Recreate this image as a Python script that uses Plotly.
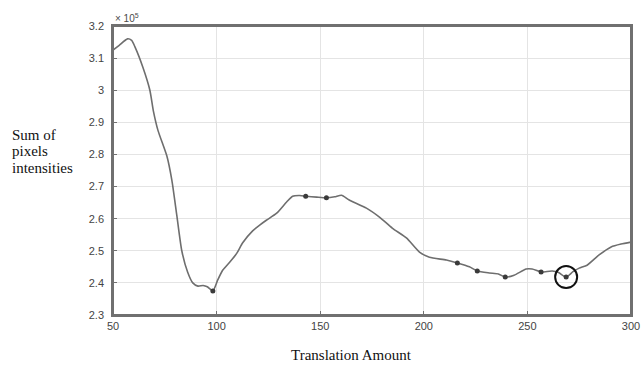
import plotly.graph_objects as go

# Data (sum of pixel intensities, in units of 1e5)
translation = [50, 53, 57, 59, 60.6, 64.5, 67.8, 69.5, 71.7, 76, 78.4, 80.8, 83.2, 86, 88.5, 91, 93.5,
               95.5, 98.2, 100.6, 103, 106.4, 109.7, 112.6, 117.4, 120.8, 124, 129, 133.8, 136.7, 140,
               143, 148.3, 153, 157, 160.3, 164, 172.3, 178.6, 184.9, 191.6, 197.9, 202.7, 210.9,
               216.2, 222, 225.8, 231.6, 236, 239.3, 243.6, 249.4, 252.3, 256.6, 262, 265, 268.7,
               272, 275, 278.8, 284.6, 290.4, 295.2, 300]
intensity = [3.125, 3.14, 3.16, 3.155, 3.135, 3.07, 3.0, 2.935, 2.875, 2.795, 2.72, 2.61, 2.50, 2.434,
             2.40, 2.39, 2.392, 2.388, 2.375, 2.41, 2.44, 2.465, 2.492, 2.525, 2.562, 2.58, 2.595,
             2.617, 2.652, 2.67, 2.672, 2.67, 2.667, 2.665, 2.668, 2.673, 2.658, 2.633, 2.605, 2.57,
             2.54, 2.496, 2.48, 2.471, 2.462, 2.45, 2.437, 2.431, 2.428, 2.418, 2.424, 2.443, 2.443,
             2.434, 2.437, 2.432, 2.418, 2.435, 2.446, 2.455, 2.487, 2.512, 2.521, 2.527]

minima_x = [98.2, 143, 153, 216.2, 225.8, 239.3, 256.6, 268.7]
minima_y = [2.375, 2.67, 2.665, 2.462, 2.437, 2.418, 2.434, 2.418]

selected_x = [268.7]
selected_y = [2.418]

x_ticks = [50, 100, 150, 200, 250, 300]
y_ticks = [2.3, 2.4, 2.5, 2.6, 2.7, 2.8, 2.9, 3.0, 3.1, 3.2]
y_tick_labels = ["2.3", "2.4", "2.5", "2.6", "2.7", "2.8", "2.9", "3", "3.1", "3.2"]

y_title_lines = ["Sum of", "pixels", "intensities"]

fig = go.Figure()
fig.add_trace(go.Scatter(x=translation, y=intensity, mode="lines",
                         line=dict(color="#6e6e6e", width=1.6, shape="spline", smoothing=0.6),
                         hoverinfo="skip", showlegend=False))
fig.add_trace(go.Scatter(x=minima_x, y=minima_y, mode="markers",
                         marker=dict(color="#3a3a3a", size=5, symbol="circle"),
                         showlegend=False))
fig.add_trace(go.Scatter(x=selected_x, y=selected_y, mode="markers",
                         marker=dict(color="#111111", size=22, symbol="circle-open",
                                     line=dict(color="#111111", width=2)),
                         showlegend=False))

tickfont = dict(family="Liberation Sans, Arial, sans-serif", size=11, color="#444444")
fig.update_xaxes(range=[50, 300], tickvals=x_ticks, showgrid=True, gridcolor="#e4e4e4",
                 gridwidth=1, zeroline=False, showline=True, linecolor="#707070", linewidth=1.5,
                 mirror=True, ticks="inside", ticklen=4, tickcolor="#707070", tickfont=tickfont,
                 automargin=False, ticklabeloverflow="allow")
fig.update_yaxes(range=[2.3, 3.2], tickvals=y_ticks, ticktext=y_tick_labels, showgrid=True,
                 gridcolor="#e4e4e4", gridwidth=1, zeroline=False, showline=True,
                 linecolor="#707070", linewidth=1.5, mirror=True, ticks="inside", ticklen=4,
                 tickcolor="#707070", tickfont=tickfont, ticklabelstandoff=5, automargin=False)

# plot frame
fig.add_shape(type="rect", xref="paper", yref="paper", x0=0, x1=1, y0=0, y1=1,
              line=dict(color="#707070", width=2), layer="above")

serif = dict(family="Liberation Serif, Times New Roman, serif", size=15, color="#111111")
fig.add_annotation(xref="paper", yref="paper", x=0, y=1, xanchor="left", yanchor="bottom",
                   text="× 10<sup>5</sup>", showarrow=False,
                   font=dict(family="Liberation Sans, Arial, sans-serif", size=10, color="#4a4a4a"))
for i, line in enumerate(y_title_lines):
    fig.add_annotation(xref="paper", yref="paper", x=-0.198, y=0.623 - 0.057 * i,
                       xanchor="left", yanchor="middle", text=line, showarrow=False, font=serif)
fig.add_annotation(xref="paper", yref="paper", x=0.46, y=-0.138, xanchor="center",
                   yanchor="middle", text="Translation Amount", showarrow=False, font=serif)

fig.update_layout(width=641, height=366, margin=dict(l=113, r=10, t=26, b=51, autoexpand=False),
                  plot_bgcolor="white", paper_bgcolor="white")
fig.write_html("out.html", config={"displayModeBar": False},
               post_script="document.body.style.margin='0';document.body.style.overflow='hidden';")
